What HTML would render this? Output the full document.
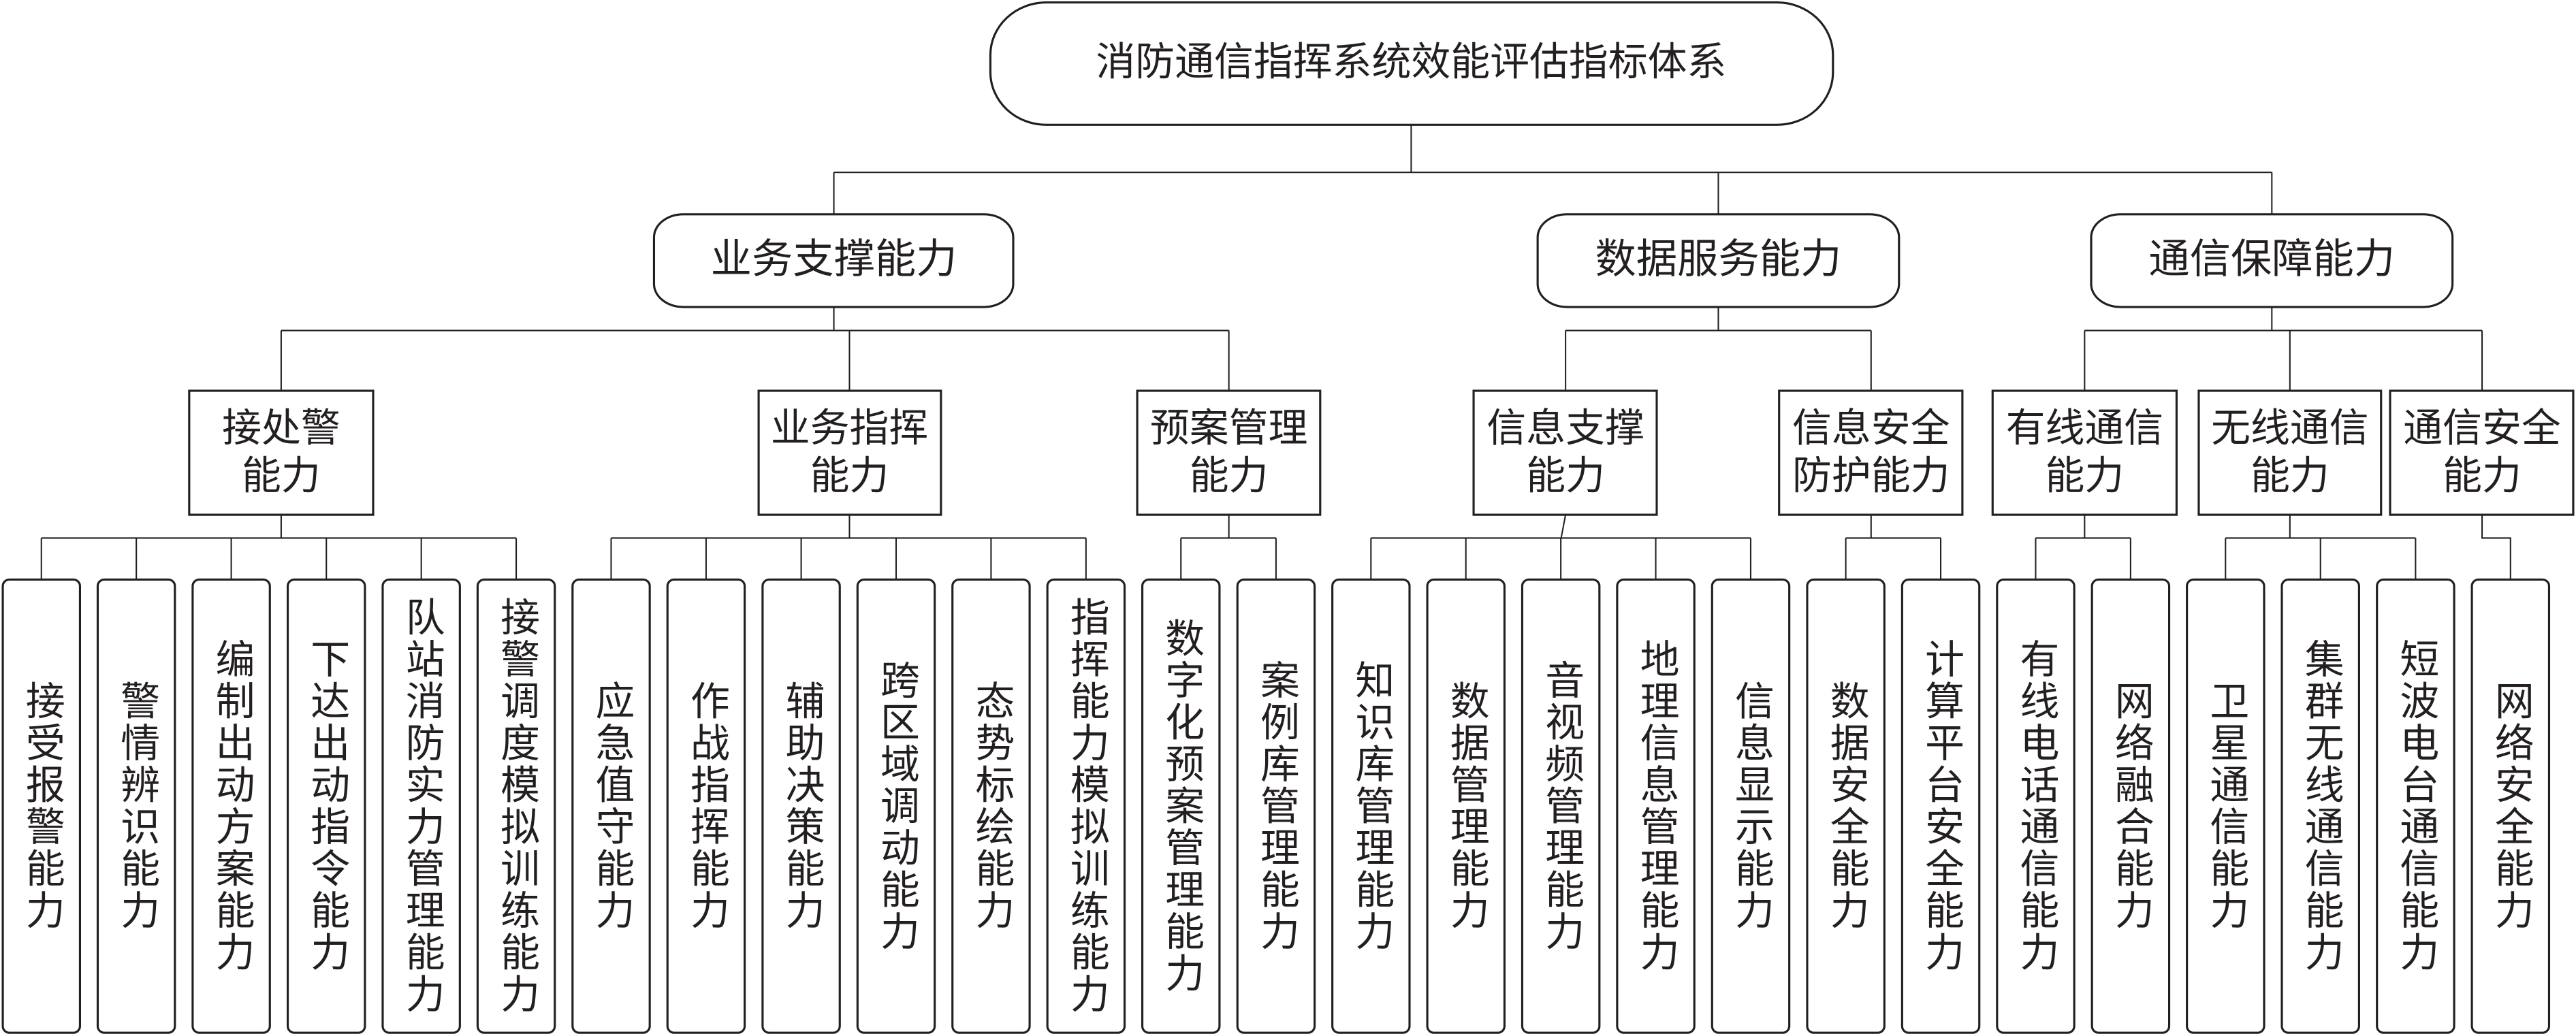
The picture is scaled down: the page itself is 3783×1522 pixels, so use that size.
<!DOCTYPE html>
<html><head><meta charset="utf-8"><style>
html,body{margin:0;padding:0;background:#fff;}
svg{display:block;}
text{font-family:"Liberation Sans","Noto Sans CJK SC",sans-serif;fill:#231f20;font-size:24px;}
.v{writing-mode:vertical-rl;text-anchor:middle;letter-spacing:1.5px;}
.h{text-anchor:middle;dominant-baseline:central;}
</style></head><body>
<svg width="3783" height="1522" viewBox="0 0 1568 631" xmlns="http://www.w3.org/2000/svg">
<g fill="none" stroke="#231f20" stroke-width="0.85">
<!-- top connectors -->
<path d="M859 76V105M507.5 105H1383M507.5 105V130.5M1046 105V130.5M1383 105V130.5"/>
<!-- level1 to level2 -->
<path d="M507.5 187V201.3M171 201.3H748M171 201.3V238M517 201.3V238M748 201.3V238"/>
<path d="M1046 187V201.3M953 201.3H1139M953 201.3V238M1139 201.3V238"/>
<path d="M1383 187V201.3M1269 201.3H1511M1269 201.3V238M1394 201.3V238M1511 201.3V238"/>
<!-- level2 to leaves -->
<path d="M171 313.5V327.7M25 327.7H314.1M25 327.7V353M82.8 327.7V353M140.6 327.7V353M198.5 327.7V353M256.3 327.7V353M314.1 327.7V353"/>
<path d="M517 313.5V327.7M371.9 327.7H661M371.9 327.7V353M429.7 327.7V353M487.6 327.7V353M545.4 327.7V353M603.2 327.7V353M661 327.7V353"/>
<path d="M748 313.5V327.7M718.8 327.7H776.7M718.8 327.7V353M776.7 327.7V353"/>
<path d="M953 313.5L950.3 327.7M834.5 327.7H1065.7M834.5 327.7V353M892.3 327.7V353M950.1 327.7V353M1007.9 327.7V353M1065.7 327.7V353"/>
<path d="M1139 313.5V327.7M1123.6 327.7H1181.4M1123.6 327.7V353M1181.4 327.7V353"/>
<path d="M1269 313.5V327.7M1239.2 327.7H1297M1239.2 327.7V353M1297 327.7V353"/>
<path d="M1394 313.5V327.7M1354.8 327.7H1470.5M1354.8 327.7V353M1412.6 327.7V353M1470.5 327.7V353"/>
<path d="M1511 313.5V327.7H1528.3V353"/>
</g>
<g fill="#fff" stroke="#231f20" stroke-width="1.3">
<rect x="602.8" y="1.5" width="513" height="74.5" rx="34" ry="32"/>
<rect x="398" y="130.5" width="218.7" height="56.5" rx="18" ry="14"/>
<rect x="936" y="130.5" width="220" height="56.5" rx="18" ry="14"/>
<rect x="1273" y="130.5" width="220" height="56.5" rx="18" ry="14"/>
<rect x="115" y="238" width="112" height="75.5"/>
<rect x="461.7" y="238" width="111" height="75.5"/>
<rect x="692.2" y="238" width="111.4" height="75.5"/>
<rect x="897" y="238" width="111.5" height="75.5"/>
<rect x="1083" y="238" width="111.6" height="75.5"/>
<rect x="1213" y="238" width="112" height="75.5"/>
<rect x="1338.5" y="238" width="111" height="75.5"/>
<rect x="1455" y="238" width="111.5" height="75.5"/>
<rect x="1.5" y="353" width="47" height="276" rx="4"/>
<rect x="59.3" y="353" width="47" height="276" rx="4"/>
<rect x="117.1" y="353" width="47" height="276" rx="4"/>
<rect x="175" y="353" width="47" height="276" rx="4"/>
<rect x="232.8" y="353" width="47" height="276" rx="4"/>
<rect x="290.6" y="353" width="47" height="276" rx="4"/>
<rect x="348.4" y="353" width="47" height="276" rx="4"/>
<rect x="406.2" y="353" width="47" height="276" rx="4"/>
<rect x="464.1" y="353" width="47" height="276" rx="4"/>
<rect x="521.9" y="353" width="47" height="276" rx="4"/>
<rect x="579.7" y="353" width="47" height="276" rx="4"/>
<rect x="637.5" y="353" width="47" height="276" rx="4"/>
<rect x="695.3" y="353" width="47" height="276" rx="4"/>
<rect x="753.2" y="353" width="47" height="276" rx="4"/>
<rect x="811" y="353" width="47" height="276" rx="4"/>
<rect x="868.8" y="353" width="47" height="276" rx="4"/>
<rect x="926.6" y="353" width="47" height="276" rx="4"/>
<rect x="984.4" y="353" width="47" height="276" rx="4"/>
<rect x="1042.2" y="353" width="47" height="276" rx="4"/>
<rect x="1100.1" y="353" width="47" height="276" rx="4"/>
<rect x="1157.9" y="353" width="47" height="276" rx="4"/>
<rect x="1215.7" y="353" width="47" height="276" rx="4"/>
<rect x="1273.5" y="353" width="47" height="276" rx="4"/>
<rect x="1331.3" y="353" width="47" height="276" rx="4"/>
<rect x="1389.1" y="353" width="47" height="276" rx="4"/>
<rect x="1447" y="353" width="47" height="276" rx="4"/>
<rect x="1504.8" y="353" width="47" height="276" rx="4"/>
</g>
<text class="h" x="859" y="38">消防通信指挥系统效能评估指标体系</text>
<text class="h" x="507.5" y="157.5" style="font-size:25px">业务支撑能力</text>
<text class="h" x="1046" y="157.5" style="font-size:25px">数据服务能力</text>
<text class="h" x="1383" y="157.5" style="font-size:25px">通信保障能力</text>
<g style="font-size:25px">
<text class="h" x="171" y="261">接处警</text><text class="h" x="171" y="290">能力</text>
<text class="h" x="517" y="261">业务指挥</text><text class="h" x="517" y="290">能力</text>
<text class="h" x="748" y="261">预案管理</text><text class="h" x="748" y="290">能力</text>
<text class="h" x="953" y="261">信息支撑</text><text class="h" x="953" y="290">能力</text>
<text class="h" x="1139" y="261">信息安全</text><text class="h" x="1139" y="290">防护能力</text>
<text class="h" x="1269" y="261">有线通信</text><text class="h" x="1269" y="290">能力</text>
<text class="h" x="1394" y="261">无线通信</text><text class="h" x="1394" y="290">能力</text>
<text class="h" x="1511" y="261">通信安全</text><text class="h" x="1511" y="290">能力</text>
</g>
<text class="v" x="25" y="491">接受报警能力</text>
<text class="v" x="82.8" y="491">警情辨识能力</text>
<text class="v" x="140.6" y="491">编制出动方案能力</text>
<text class="v" x="198.5" y="491">下达出动指令能力</text>
<text class="v" x="256.3" y="491">队站消防实力管理能力</text>
<text class="v" x="314.1" y="491">接警调度模拟训练能力</text>
<text class="v" x="371.9" y="491">应急值守能力</text>
<text class="v" x="429.7" y="491">作战指挥能力</text>
<text class="v" x="487.6" y="491">辅助决策能力</text>
<text class="v" x="545.4" y="491">跨区域调动能力</text>
<text class="v" x="603.2" y="491">态势标绘能力</text>
<text class="v" x="661" y="491">指挥能力模拟训练能力</text>
<text class="v" x="718.8" y="491">数字化预案管理能力</text>
<text class="v" x="776.7" y="491">案例库管理能力</text>
<text class="v" x="834.5" y="491">知识库管理能力</text>
<text class="v" x="892.3" y="491">数据管理能力</text>
<text class="v" x="950.1" y="491">音视频管理能力</text>
<text class="v" x="1007.9" y="491">地理信息管理能力</text>
<text class="v" x="1065.7" y="491">信息显示能力</text>
<text class="v" x="1123.6" y="491">数据安全能力</text>
<text class="v" x="1181.4" y="491">计算平台安全能力</text>
<text class="v" x="1239.2" y="491">有线电话通信能力</text>
<text class="v" x="1297" y="491">网络融合能力</text>
<text class="v" x="1354.8" y="491">卫星通信能力</text>
<text class="v" x="1412.6" y="491">集群无线通信能力</text>
<text class="v" x="1470.5" y="491">短波电台通信能力</text>
<text class="v" x="1528.3" y="491">网络安全能力</text>
</svg>
</body></html>
